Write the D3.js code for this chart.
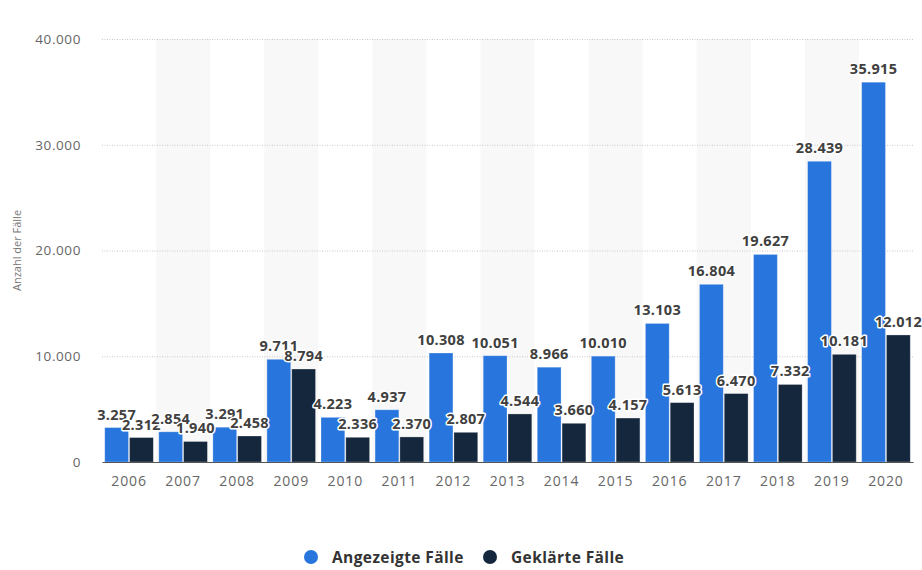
<!DOCTYPE html>
<html>
<head>
<meta charset="utf-8">
<script src="https://cdn.jsdelivr.net/npm/d3@7"></script>
<style>
  html, body { margin: 0; padding: 0; background: #fff; }
  svg { display: block; }
</style>
</head>
<body>
<svg id="chart" width="922" height="570"></svg>
<script>
// Polizeilich erfasste Fälle pro Jahr
const years = ["2006","2007","2008","2009","2010","2011","2012","2013","2014","2015","2016","2017","2018","2019","2020"];
const angezeigt = [3257, 2854, 3291, 9711, 4223, 4937, 10308, 10051, 8966, 10010, 13103, 16804, 19627, 28439, 35915];
const geklaert  = [2312, 1940, 2458, 8794, 2336, 2370, 2807, 4544, 3660, 4157, 5613, 6470, 7332, 10181, 12012];
const yTicks = [0, 10000, 20000, 30000, 40000];
const seriesNames = ["Angezeigte Fälle", "Geklärte Fälle"];
const seriesColors = ["#2876dd", "#14273d"];

const svg = d3.select("#chart");
const margin = { left: 102, right: 9, top: 39, bottom: 108 };
const W = 922, H = 570;

const fmt = v => d3.format(",")(v).replace(/,/g, ".");

const x = d3.scaleBand().domain(years).range([margin.left, W - margin.right]).paddingInner(0).paddingOuter(0);
const xs = d3.scaleBand().domain([0, 1]).range([0, x.bandwidth()]).paddingInner(0.04).paddingOuter(0.11);
const y = d3.scaleLinear().domain([0, 40000]).range([H - margin.bottom, margin.top]);

// Alternating column backgrounds
svg.append("g").selectAll("rect")
  .data(years.filter((d, i) => i % 2 === 1))
  .join("rect")
  .attr("x", d => x(d))
  .attr("y", margin.top)
  .attr("width", x.bandwidth())
  .attr("height", y(0) - margin.top)
  .attr("fill", "#f8f8f8");

// Horizontal grid
const yAxis = d3.axisLeft(y).tickValues(yTicks).tickFormat(fmt).tickSize(0).tickPadding(0);
const gy = svg.append("g").attr("transform", `translate(${margin.left},0)`).call(yAxis);
gy.select(".domain").remove();
gy.selectAll(".tick line")
  .attr("x2", W - margin.right - margin.left)
  .attr("stroke", "#c8c8c8")
  .attr("stroke-dasharray", "1,1.5")
  .attr("stroke-width", 1);
gy.selectAll(".tick").filter(d => d === 0).select("line").remove();
gy.selectAll(".tick text")
  .attr("x", -21)
  .attr("fill", "#666")
  .style("font-family", "'Open Sans', sans-serif")
  .style("font-size", "13.5px")
  .style("letter-spacing", "0.6px");

// Y axis title
svg.append("text")
  .attr("transform", `translate(21,${(margin.top + y(0)) / 2}) rotate(-90)`)
  .attr("text-anchor", "middle")
  .attr("fill", "#777")
  .style("font-family", "'Open Sans', sans-serif")
  .style("font-size", "11px")
  .text("Anzahl der Fälle");

// Bars
const series = [angezeigt, geklaert];
const groups = svg.append("g").selectAll("g")
  .data(years)
  .join("g")
  .attr("transform", d => `translate(${x(d)},0)`);

groups.selectAll("rect")
  .data((d, i) => series.map((s, k) => ({ k, v: s[i] })))
  .join("rect")
  .attr("x", d => xs(d.k))
  .attr("width", xs.bandwidth())
  .attr("y", d => y(d.v))
  .attr("height", d => y(0) - y(d.v))
  .attr("fill", d => seriesColors[d.k])
  .attr("stroke", "#ffffff")
  .attr("stroke-opacity", 0.35)
  .attr("stroke-width", 0.8);

// X axis
const xAxis = d3.axisBottom(x).tickSize(0).tickPadding(14);
const gx = svg.append("g").attr("transform", `translate(0,${y(0)})`).call(xAxis);
gx.select(".domain").attr("stroke", "#555").attr("stroke-width", 1.2);
gx.selectAll(".tick text")
  .attr("fill", "#666")
  .style("font-family", "'Open Sans', sans-serif")
  .style("font-size", "14px")
  .style("letter-spacing", "0.9px");

// Value labels
const labels = svg.append("g").selectAll("g")
  .data(years)
  .join("g")
  .attr("transform", d => `translate(${x(d)},0)`);

labels.selectAll("text")
  .data((d, i) => series.map((s, k) => ({ k, v: s[i] })))
  .join("text")
  .attr("x", d => xs(d.k) + xs.bandwidth() / 2)
  .attr("y", d => y(d.v) - 8)
  .attr("text-anchor", "middle")
  .attr("fill", "#404040")
  .attr("stroke", "#fff")
  .attr("stroke-width", 3)
  .attr("stroke-linejoin", "round")
  .attr("paint-order", "stroke")
  .style("font-family", "'Open Sans', sans-serif")
  .style("font-weight", "bold")
  .style("font-size", "14.5px")
  .style("letter-spacing", "0.3px")
  .text(d => fmt(d.v));

// Legend
const legend = svg.append("g").attr("transform", "translate(0,557)");
const legendX = [311, 490];
seriesNames.forEach((name, k) => {
  legend.append("circle")
    .attr("cx", legendX[k])
    .attr("cy", 0)
    .attr("r", 7)
    .attr("fill", seriesColors[k]);
  legend.append("text")
    .attr("x", legendX[k] + 21)
    .attr("y", 6)
    .attr("fill", "#333")
    .style("font-family", "'Open Sans', sans-serif")
    .style("font-weight", "bold")
    .style("font-size", "15.5px")
    .style("letter-spacing", "0.4px")
    .text(name);
});
</script>
</body>
</html>
